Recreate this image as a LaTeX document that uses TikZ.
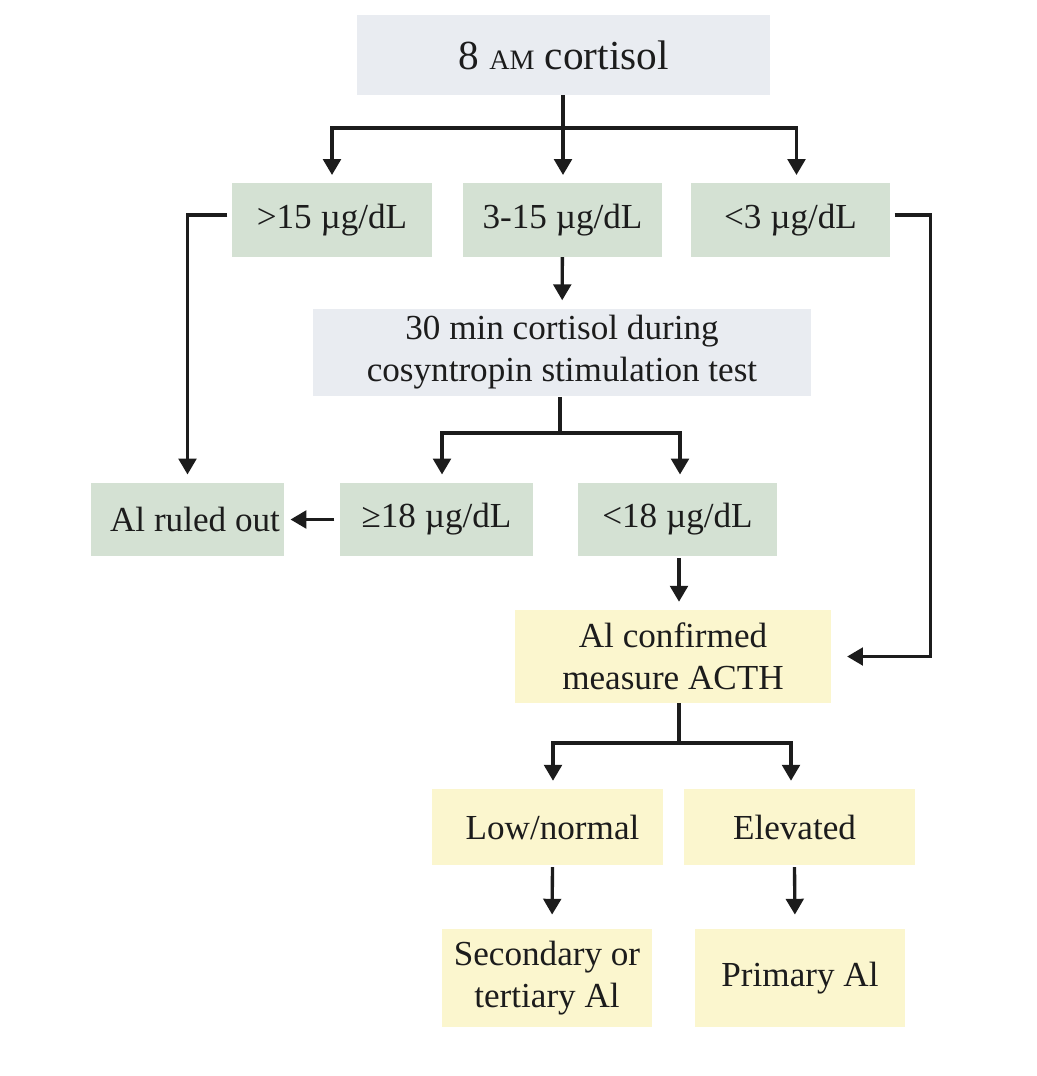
\documentclass[tikz,border=0pt]{standalone}
\usepackage{fontspec}
\setmainfont{Liberation Serif}
\usetikzlibrary{arrows.meta}
\definecolor{greyblue}{RGB}{233,236,241}
\definecolor{sage}{RGB}{212,225,211}
\definecolor{cream}{RGB}{251,246,206}
\definecolor{ink}{RGB}{28,28,28}
\begin{document}
\begin{tikzpicture}[x=0.02cm, y=-0.02cm,
    box/.style={inner sep=0pt, align=center, text=ink, font=\fontsize{20}{24}\selectfont},
    testbox/.style={box, fill=greyblue},
    greenbox/.style={box, fill=sage, minimum height=1.47cm},
    yellowbox/.style={box, fill=cream},
    conn/.style={draw=ink, line width=1.9pt},
    arr/.style={conn, -{Triangle[width=10pt,length=9pt]}, shorten >=4.5pt}]
    \useasboundingbox (0,0) rectangle (1036,1076);
    \path (563.5,55) node[testbox, minimum width=8.26cm, minimum height=1.6cm, font=\fontsize{23.5}{28}\selectfont] (cortisol) {8 {\fontsize{16}{16}\selectfont AM} cortisol};
    \path (332,220) node[greenbox, minimum width=4cm] (gt15) {>15 µg/dL};
    \path (562.5,220) node[greenbox, minimum width=3.98cm] (mid) {3-15 µg/dL};
    \path (790.5,220) node[greenbox, minimum width=3.98cm] (lt3) {<3 µg/dL};
    \path (562,352.5) node[testbox, minimum width=9.96cm, minimum height=1.76cm] (stim) {30 min cortisol during\\cosyntropin stimulation test};
    \path (187.5,519.5) node[greenbox, minimum width=3.86cm] (ruledout) {\hspace{0.3cm}Al ruled out};
    \path (436.5,519.5) node[greenbox, minimum width=3.86cm] (ge18) {≥18 µg/dL};
    \path (677.5,519.5) node[greenbox, minimum width=3.98cm] (lt18) {<18 µg/dL};
    \path (673,656.5) node[yellowbox, minimum width=6.32cm, minimum height=1.86cm] (confirm) {Al confirmed\\measure ACTH};
    \path (547.5,827) node[yellowbox, minimum width=4.62cm, minimum height=1.52cm] (low) {\hspace{0.2cm}Low/normal};
    \path (799.5,827) node[yellowbox, minimum width=4.62cm, minimum height=1.52cm] (elev) {Elevated\hspace{0.2cm}};
    \path (547,978) node[yellowbox, minimum width=4.2cm, minimum height=1.96cm] (sec) {Secondary or\\tertiary Al};
    \path (800,978) node[yellowbox, minimum width=4.2cm, minimum height=1.96cm] (prim) {Primary Al};
    \coordinate (topsplit) at (563,128);
    \coordinate (stimsplit) at (560,433);
    \coordinate (acthsplit) at (679,743);
    % first split
    \draw [conn] (topsplit |- cortisol.south) -- (topsplit);
    \draw [arr] (topsplit) -| (gt15);
    \draw [arr] (topsplit) -- (topsplit |- mid.north);
    \draw [arr] (topsplit) -| ([xshift=0.12cm]lt3.north);
    \draw [arr, shorten <=2.5pt] ([yshift=0.1cm]gt15.west) -| (ruledout);
    \draw [arr, shorten <=2.5pt, shorten >=9pt] ([yshift=0.1cm]lt3.east) -- ++(40,0) |- (confirm.east);
    % stimulation test
    \draw [arr] (mid) -- (stim);
    \draw [conn] (stimsplit |- stim.south) -- (stimsplit);
    \draw [arr] (stimsplit) -| ([xshift=0.11cm]ge18.north);
    \draw [arr] (stimsplit) -| ([xshift=0.05cm]lt18.north);
    \draw [arr, shorten <=3pt, shorten >=3.5pt] (ge18) -- (ruledout);
    \draw [arr, shorten <=1pt] (acthsplit |- lt18.south) -- (acthsplit |- confirm.north);
    % ACTH
    \draw [conn] (acthsplit |- confirm.south) -- (acthsplit);
    \draw [arr] (acthsplit) -| ([xshift=0.11cm]low.north);
    \draw [arr] (acthsplit) -| ([xshift=-0.17cm]elev.north);
    \draw [arr, shorten <=1pt, shorten >=8pt] ([xshift=0.1cm]low.south) -- ([xshift=0.1cm]sec.north);
    \draw [arr, shorten <=1pt, shorten >=8pt] ([xshift=-0.1cm]elev.south) -- ([xshift=-0.1cm]prim.north);
\end{tikzpicture}
\end{document}
